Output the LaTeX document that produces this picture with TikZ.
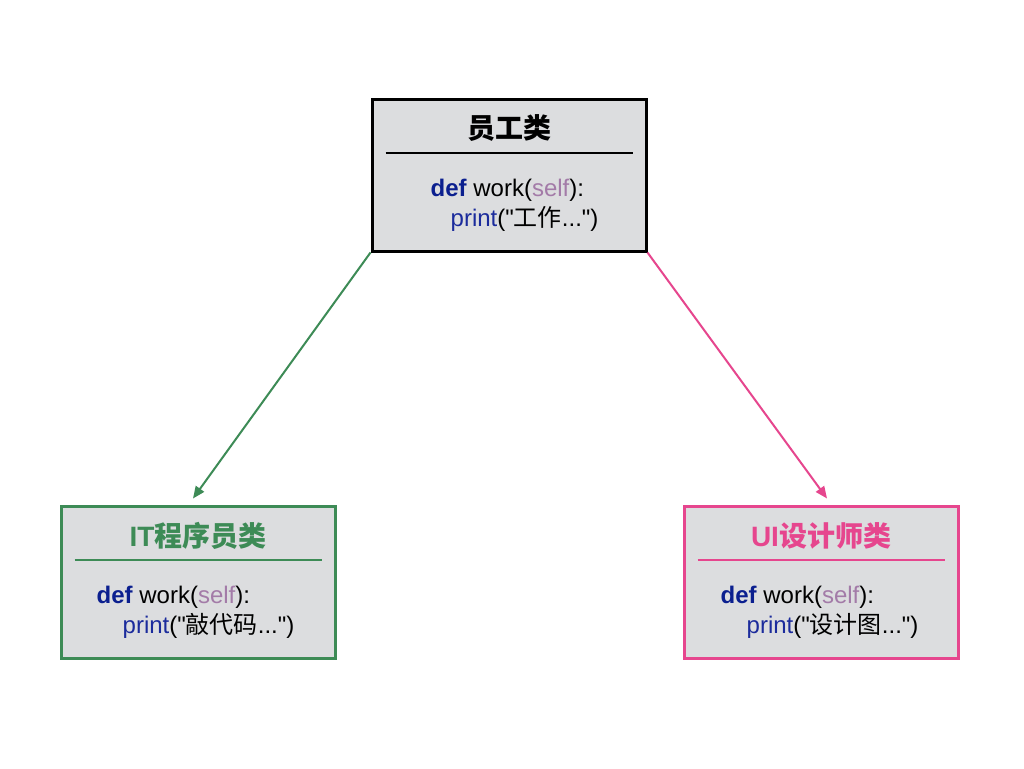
\documentclass[tikz,border=0pt]{standalone}
\usepackage{fontspec}
\newfontfamily\lsans{Liberation Sans}
\newfontfamily\cjk{Noto Sans CJK SC}
\usetikzlibrary{calc,shadows,arrows.meta}
\definecolor{boxfill}{HTML}{DCDDDF}
\definecolor{itgreen}{HTML}{3D8B56}
\definecolor{uipink}{HTML}{E6468E}
\definecolor{defblue}{HTML}{0B1F8F}
\definecolor{selfpurple}{HTML}{A37BA8}
\definecolor{printblue}{HTML}{1B2B9C}
\tikzset{
  classbox/.style={draw=#1, line width=3pt, fill=boxfill, minimum width=274pt, minimum height=152pt,
    inner sep=0pt, drop shadow={opacity=0.18, shadow xshift=1.5pt, shadow yshift=-1.5pt}},
  titletext/.style={text=#1, font=\lsans\fontsize{28}{32}\selectfont\bfseries, inner sep=0pt},
  codetext/.style={align=left, anchor=west, font=\lsans\fontsize{24}{30}\selectfont, inner sep=0pt},
  sepline/.style={draw=#1, line width=2pt},
  inherit/.style={draw=#1, line width=2pt, -{Triangle[length=12pt,width=10pt]}}
}
\newcommand{\codeblock}[2]{\textcolor{defblue}{\bfseries def} work(\textcolor{selfpurple}{self}):\\
\hspace*{#1}\textcolor{printblue}{print}("{\cjk #2}...")}
\begin{document}
\begin{tikzpicture}[x=1pt,y=-1pt]
\useasboundingbox[fill=white] (0,0) rectangle (1024,768);
% top box
\node[classbox=black] (emp) at (509,175) {};
\node[titletext=black] (empT) at ($(emp.north)+(0,31)$) {\cjk 员工类};
\draw[sepline=black] ($(emp.north west)+(15,55)$) coordinate (empL) -- ($(emp.north east)+(-15,55)$) coordinate (empR);
\node[codetext] (empC) at ($(emp.north west)+(60,108)$) {\codeblock{20pt}{工作}};
% left box
\node[classbox=itgreen] (it) at (198,582) {};
\node[titletext=itgreen] (itT) at ($(it.north)+(0,31)$) {IT{\cjk 程序员类}};
\draw[sepline=itgreen] ($(it.north west)+(15,55)$) coordinate (itL) -- ($(it.north east)+(-15,55)$) coordinate (itR);
\node[codetext] (itC) at ($(it.north west)+(37,108)$) {\codeblock{26pt}{敲代码}};
% right box
\node[classbox=uipink] (ui) at (821,582) {};
\node[titletext=uipink] (uiT) at ($(ui.north)+(0,31)$) {UI{\cjk 设计师类}};
\draw[sepline=uipink] ($(ui.north west)+(15,55)$) coordinate (uiL) -- ($(ui.north east)+(-15,55)$) coordinate (uiR);
\node[codetext] (uiC) at ($(ui.north west)+(38,108)$) {\codeblock{26pt}{设计图}};
% arrows
\coordinate (itTip) at ($(it.north)+(-5,-6)$);
\coordinate (uiTip) at ($(ui.north)+(6,-6)$);
\draw[inherit=itgreen] (emp.south west) -- (itTip);
\draw[inherit=uipink] (emp.south east) -- (uiTip);
\end{tikzpicture}
\end{document}
